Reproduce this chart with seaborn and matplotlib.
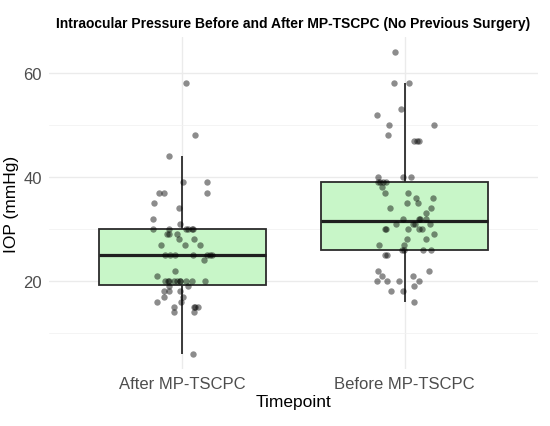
import numpy as np
import pandas as pd
import matplotlib
matplotlib.use("Agg")
import matplotlib.pyplot as plt
import seaborn as sns

# IOP values (mmHg)
after_iop = [58, 48, 44, 39, 39, 37, 37, 37, 35, 34, 32, 31,
             30, 30, 30, 30, 30, 30, 29, 29, 29, 28, 28, 27, 27, 27,
             25, 25, 25, 25, 25, 25, 25, 24, 22, 21,
             20, 20, 20, 20, 20, 20, 20, 20, 20, 20,
             19, 19, 18, 18, 18, 17, 17, 16, 16, 15, 15, 15, 15, 14, 14, 6]
before_iop = [64, 58, 58, 53, 52, 50, 50, 48, 47, 47, 47,
              40, 40, 40, 39, 39, 39, 39, 38, 37, 37, 36, 36, 35, 35,
              34, 34, 33, 32, 32, 32, 32, 31, 31, 31, 31, 30, 30, 30, 30, 30,
              29, 28, 28, 27, 27, 26, 26, 26, 26, 25, 25, 22, 22, 21, 21,
              20, 20, 20, 20, 19, 18, 18, 16]
timepoints = ["After MP-TSCPC", "Before MP-TSCPC"]

df = pd.DataFrame({
    "Timepoint": [timepoints[0]] * len(after_iop) + [timepoints[1]] * len(before_iop),
    "IOP": after_iop + before_iop,
})

sns.set_theme(style="white")
plt.rcParams["font.family"] = ["Liberation Sans", "DejaVu Sans"]

fig = plt.figure(figsize=(5.5, 4.27), dpi=100)
ax = fig.add_axes([49 / 550, (427 - 370) / 427, 489 / 550, 332 / 427])

sns.boxplot(data=df, x="Timepoint", y="IOP", order=timepoints, width=0.75,
            color="#C8F6C8", saturation=1, linecolor="#2b2b2b", linewidth=1.3,
            showfliers=False, showcaps=False,
            medianprops={"linewidth": 2.3, "color": "#1f1f1f"}, ax=ax)

np.random.seed(3)
sns.stripplot(data=df, x="Timepoint", y="IOP", order=timepoints, jitter=0.14,
              color="black", alpha=0.45, size=4.6, linewidth=0, ax=ax)

ax.set_xlim(-0.6, 1.6)
ax.set_ylim(3.1, 66.9)
ax.set_yticks([20, 40, 60])
ax.set_yticks([10, 30, 50], minor=True)
ax.grid(True, which="major", color="#EBEBEB", linewidth=1.0)
ax.grid(True, which="minor", axis="y", color="#F2F2F2", linewidth=0.6)
ax.set_axisbelow(True)
for s in ax.spines.values():
    s.set_visible(False)
ax.tick_params(axis="both", which="both", length=0, labelsize=12, colors="#4D4D4D", pad=5)

ax.set_xlabel("Timepoint", fontsize=12.5, color="black", labelpad=2)
ax.set_ylabel("IOP (mmHg)", fontsize=12.5, color="black", labelpad=3)
ax.set_title("Intraocular Pressure Before and After MP-TSCPC (No Previous Surgery)",
             fontsize=10, fontweight="bold", color="black", pad=7)

fig.savefig("out.png", dpi=100)
